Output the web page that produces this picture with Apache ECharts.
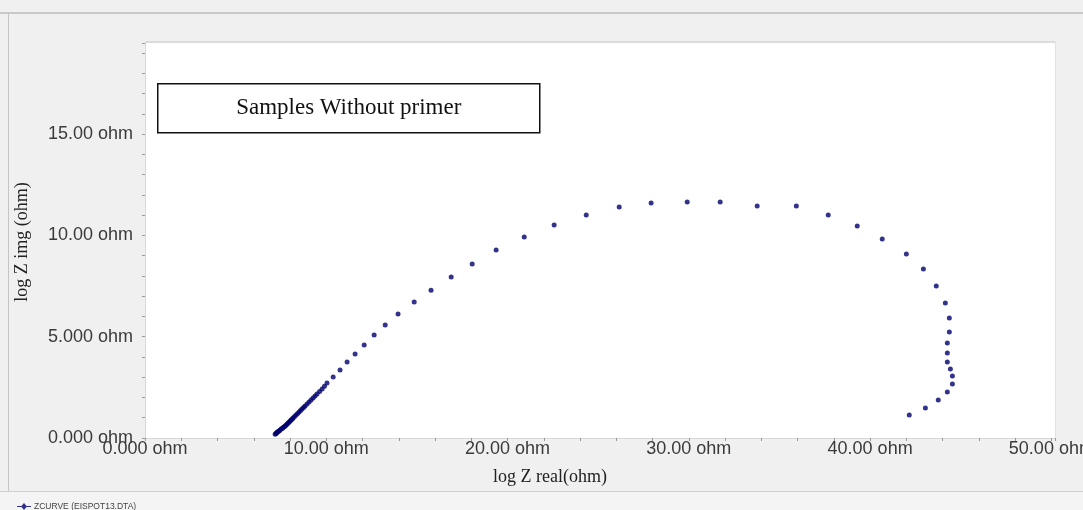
<!DOCTYPE html>
<html>
<head>
<meta charset="utf-8">
<script src="https://cdn.jsdelivr.net/npm/echarts@6/dist/echarts.min.js"></script>
<style>
  html, body { margin: 0; padding: 0; background: #f0f0f0; }
  #chart { width: 1083px; height: 510px; }
</style>
</head>
<body>
<div id="chart"></div>
<script>
// Nyquist data (ohm)
const zReal = [
  7.18, 7.22, 7.25, 7.30, 7.34, 7.40, 7.45, 7.51, 7.57, 7.62, 7.68, 7.73, 7.79, 7.84,
  7.90, 7.95, 8.01, 8.06, 8.12, 8.17, 8.25, 8.33, 8.42, 8.50, 8.58, 8.66, 8.75, 8.83,
  8.94, 9.05, 9.16, 9.27, 9.38, 9.49, 9.63, 9.77, 9.90,
  10.04, 10.38, 10.76, 11.15, 11.59, 12.09, 12.64, 13.25, 13.96, 14.85,
  15.78, 16.89, 18.05, 19.37, 20.92, 22.57, 24.34, 26.16, 27.92, 29.91, 31.73, 33.77,
  35.93, 37.69, 39.29, 40.67, 42.00, 42.94, 43.65, 44.15, 44.37, 44.37, 44.26, 44.26,
  44.26, 44.43, 44.54, 44.54, 44.26, 43.76, 43.05, 42.16
]
const zImg = [
  0.18, 0.22, 0.25, 0.28, 0.32, 0.35, 0.40, 0.44, 0.47, 0.52, 0.55, 0.59, 0.64, 0.69,
  0.74, 0.79, 0.84, 0.89, 0.94, 0.99, 1.06, 1.14, 1.21, 1.28, 1.36, 1.43, 1.50, 1.58,
  1.68, 1.78, 1.88, 1.97, 2.07, 2.17, 2.30, 2.42, 2.56,
  2.71, 3.01, 3.36, 3.75, 4.15, 4.59, 5.08, 5.58, 6.12, 6.71,
  7.30, 7.95, 8.59, 9.28, 9.92, 10.51, 11.01, 11.40, 11.60, 11.65, 11.65, 11.45,
  11.45, 11.01, 10.46, 9.82, 9.08, 8.34, 7.50, 6.66, 5.92, 5.23, 4.69, 4.20,
  3.75, 3.41, 3.06, 2.67, 2.27, 1.88, 1.48, 1.14
]
const seriesName = 'ZCURVE (EISPOT13.DTA)'
const chartTitle = 'Samples Without primer'
const xTitle = 'log Z real(ohm)'
const yTitle = 'log Z img (ohm)'

const points = zReal.map((x, i) => [x, zImg[i]])

// 4 significant digits, like the instrument software
function ohmLabel(v) {
  const s = Math.abs(v) < 10 ? v.toFixed(3) : v.toFixed(2)
  return s + ' ohm'
}

const chart = echarts.init(document.getElementById('chart'))

const tickFont = { fontFamily: 'Liberation Sans, Arial, sans-serif', fontSize: 18, color: '#3a3a3a' }

const option = {
  backgroundColor: '#f0f0f0',
  animation: false,
  grid: {
    left: 145, right: 28, top: 43, bottom: 72,
    containLabel: false, outerBoundsMode: 'none',
    show: true, backgroundColor: '#ffffff', borderWidth: 0
  },
  legend: {
    left: 12, top: 497,
    itemWidth: 14, itemHeight: 8, itemGap: 4,
    icon: 'path://M0,4.4H4.5L7,1.5L9.5,4.4H14V5.6H9.5L7,8.5L4.5,5.6H0Z',
    textStyle: { fontFamily: 'Liberation Sans, Arial, sans-serif', fontSize: 8.5, color: '#444', padding: [0, 0, 0, -2] },
    data: [seriesName]
  },
  xAxis: {
    type: 'value', min: 0, max: 50.2, interval: 10,
    axisLine: { show: true, lineStyle: { color: '#d8d8d8', width: 1 } },
    axisTick: { show: true, length: 3, lineStyle: { color: '#999' } },
    minorTick: { show: true, splitNumber: 5, length: 3, lineStyle: { color: '#999' } },
    splitLine: { show: false },
    axisLabel: Object.assign({ margin: 2, showMaxLabel: false, formatter: ohmLabel }, tickFont)
  },
  yAxis: {
    type: 'value', min: 0, max: 19.5, interval: 5,
    axisLine: { show: true, lineStyle: { color: '#d8d8d8', width: 1 } },
    axisTick: { show: true, length: 3, lineStyle: { color: '#999' } },
    minorTick: { show: true, splitNumber: 5, length: 3, lineStyle: { color: '#999' } },
    splitLine: { show: false },
    axisLabel: Object.assign({ margin: 12, showMaxLabel: false, formatter: ohmLabel }, tickFont)
  },
  series: [{
    name: seriesName,
    type: 'scatter',
    symbol: 'circle',
    symbolSize: 5,
    itemStyle: { color: '#00006e' },
    data: points
  }],
  graphic: [
    // window frame
    { type: 'rect', left: 0, top: 12, shape: { width: 1083, height: 2 }, style: { fill: '#c9c9c9' }, silent: true },
    { type: 'rect', left: 8, top: 13, shape: { width: 1, height: 479 }, style: { fill: '#c4c4c4' }, silent: true },
    { type: 'rect', left: 0, top: 491, shape: { width: 1083, height: 19 }, style: { fill: '#f4f4f4' }, silent: true, z: -1 },
    { type: 'rect', left: 0, top: 491, shape: { width: 1083, height: 1 }, style: { fill: '#cfcfcf' }, silent: true },
    // plot top edge
    { type: 'rect', left: 145, top: 41, shape: { width: 910, height: 2 }, style: { fill: '#dcdcdc' }, silent: true },
    { type: 'rect', left: 1055, top: 41, shape: { width: 1, height: 397 }, style: { fill: '#e2e2e2' }, silent: true },
    // title box
    {
      type: 'group', left: 157, top: 83,
      children: [
        { type: 'rect', shape: { x: 0, y: 0, width: 382, height: 49 }, style: { fill: '#fff', stroke: '#111', lineWidth: 1.5 } },
        {
          type: 'text', x: 191, y: 24.5,
          style: { text: chartTitle, fill: '#111', font: '23px "Liberation Serif", "Times New Roman", serif', align: 'center', verticalAlign: 'middle' }
        }
      ]
    },
    // axis titles
    {
      type: 'text', x: 550, y: 477,
      style: { text: xTitle, fill: '#222', font: '18px "Liberation Serif", "Times New Roman", serif', align: 'center', verticalAlign: 'middle' }
    },
    {
      type: 'text', x: 22, y: 242, rotation: Math.PI / 2,
      style: { text: yTitle, fill: '#222', font: '18px "Liberation Serif", "Times New Roman", serif', align: 'center', verticalAlign: 'middle' }
    }
  ]
}

chart.setOption(option)
</script>
</body>
</html>
